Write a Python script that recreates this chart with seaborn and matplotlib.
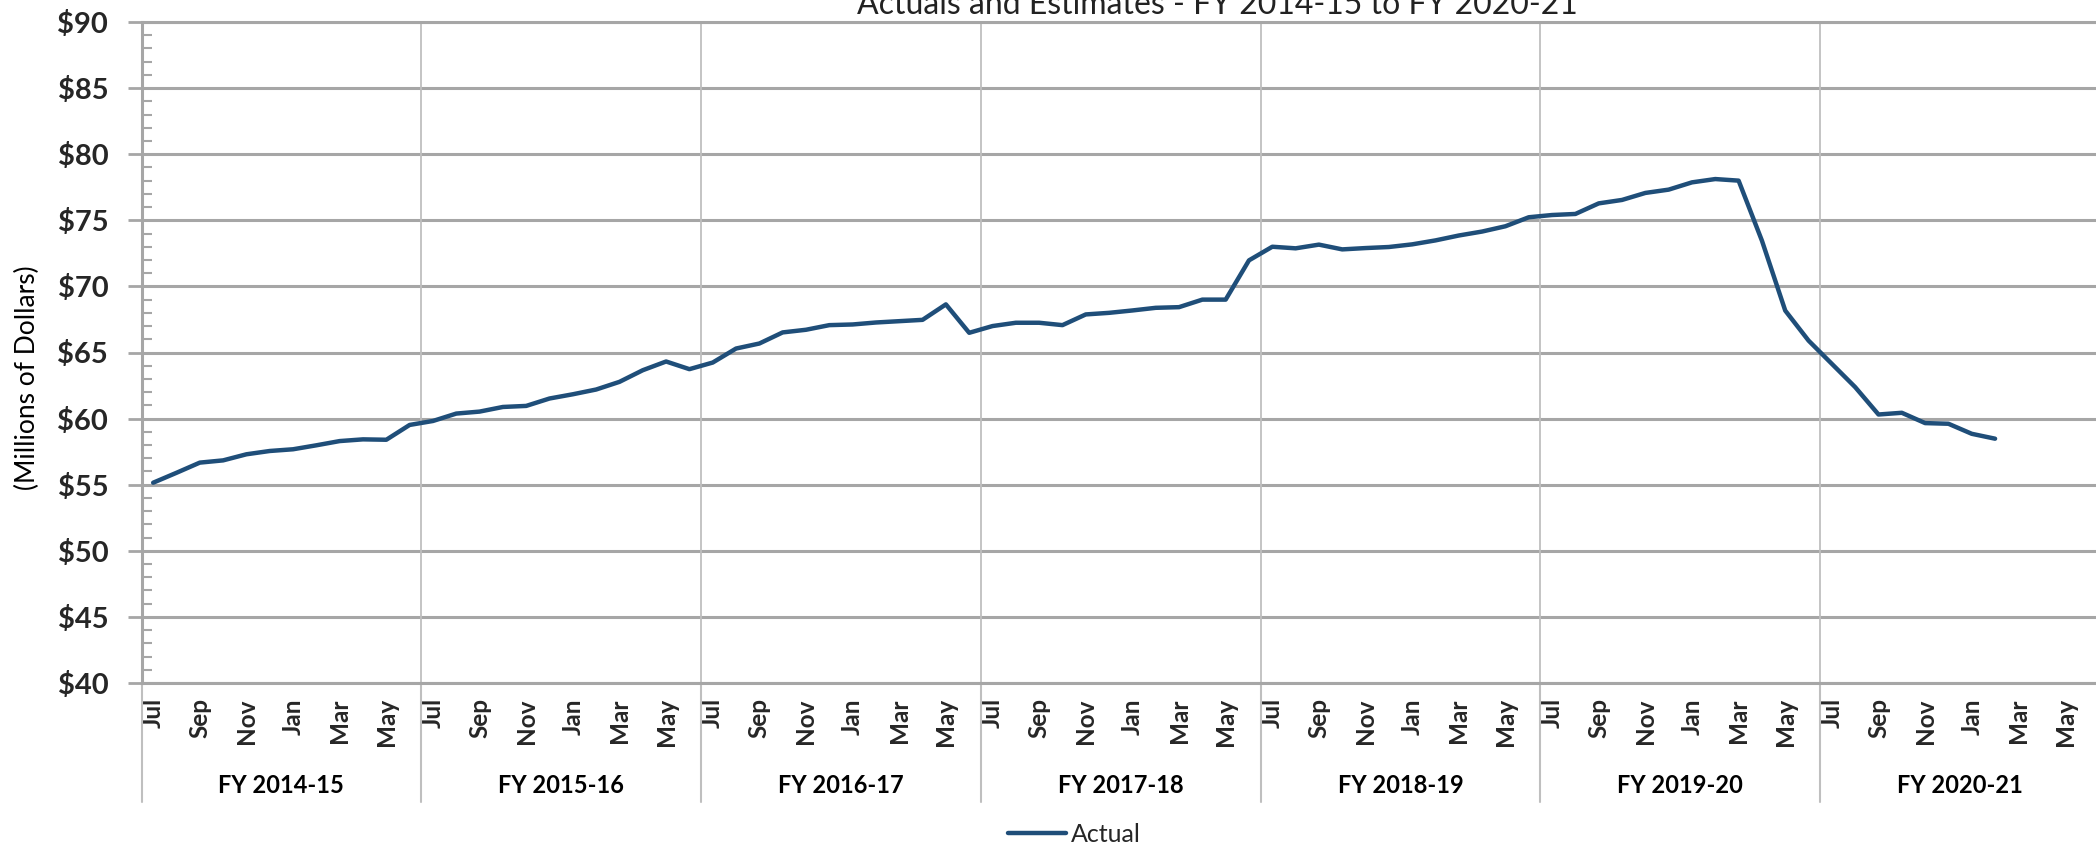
import numpy as np
import pandas as pd
import matplotlib
matplotlib.use("Agg")
import matplotlib.pyplot as plt
import matplotlib.transforms as mtransforms
from matplotlib.ticker import MultipleLocator, FixedLocator, FuncFormatter
import seaborn as sns

# ---------------- data ----------------
title = "Actuals and Estimates - FY 2014-15 to FY 2020-21"
y_label = "(Millions of Dollars)"
series_name = "Actual"
fiscal_years = ["FY 2014-15", "FY 2015-16", "FY 2016-17", "FY 2017-18",
                "FY 2018-19", "FY 2019-20", "FY 2020-21"]
months = ["Jul", "Aug", "Sep", "Oct", "Nov", "Dec",
          "Jan", "Feb", "Mar", "Apr", "May", "Jun"]
actual = [
    55.15, 55.90, 56.67, 56.84, 57.30, 57.55, 57.68, 57.98, 58.30, 58.43, 58.40, 59.52,
    59.82, 60.38, 60.53, 60.88, 60.96, 61.52, 61.84, 62.20, 62.78, 63.66, 64.32, 63.74,
    64.24, 65.30, 65.68, 66.52, 66.72, 67.07, 67.12, 67.27, 67.37, 67.47, 68.64, 66.49,
    67.00, 67.25, 67.25, 67.07, 67.88, 68.00, 68.18, 68.38, 68.43, 69.00, 69.00, 71.97,
    73.00, 72.88, 73.16, 72.80, 72.90, 72.98, 73.18, 73.48, 73.85, 74.15, 74.55, 75.23,
    75.40, 75.48, 76.28, 76.54, 77.07, 77.32, 77.87, 78.12, 78.00, 73.46, 68.17, 65.90,
    64.14, 62.38, 60.31, 60.44, 59.66, 59.61, 58.85, 58.48,
]
y_min, y_max, y_step = 40, 90, 5

# ---------------- style ----------------
sns.set_theme(style="white")
plt.rcParams["font.family"] = ["Lato", "DejaVu Sans"]

W, H = 2096, 847
fig = plt.figure(figsize=(W / 100, H / 100), dpi=100)
left, right = 141.5 / W, 2100 / W
bottom, top = 1 - 683 / H, 1 - 22 / H
ax = fig.add_axes([left, bottom, right - left, top - bottom])

line_color = "#1F4E79"
grid_color = "#a6a6a6"
vgrid_color = "#bfbfbf"

n_months = len(fiscal_years) * len(months)
df = pd.DataFrame({"idx": np.arange(len(actual)), "value": actual})
sns.lineplot(data=df, x="idx", y="value", color=line_color, linewidth=3.2,
             ax=ax, label=series_name, solid_capstyle="round", zorder=5)
handles, labels = ax.get_legend_handles_labels()
ax.get_legend().remove()

ax.set_xlim(-0.5, n_months - 0.5)
ax.set_ylim(y_min, y_max)
ax.set_xlabel("")
ax.set_ylabel("")

# horizontal gridlines
ax.yaxis.set_major_locator(MultipleLocator(y_step))
ax.yaxis.set_minor_locator(MultipleLocator(1))
ax.yaxis.grid(True, which="major", color=grid_color, linewidth=2.2)
ax.xaxis.grid(False)
ax.set_axisbelow(True)

# spines
ax.spines["right"].set_visible(False)
for s in ["left", "bottom", "top"]:
    ax.spines[s].set_color(grid_color)
    ax.spines[s].set_linewidth(2.2)

# fiscal-year separators (inside + below axis)
blend = mtransforms.blended_transform_factory(ax.transData, fig.transFigure)
for k in range(len(fiscal_years) + 1):
    xb = k * len(months) - 0.5
    if 0 < k < len(fiscal_years):
        ax.axvline(xb, color=vgrid_color, linewidth=1.3, zorder=1)
    ax.plot([xb, xb], [bottom, 1 - 802 / H], transform=blend, color=vgrid_color,
            linewidth=1.5, clip_on=False)

# y ticks
ax.yaxis.set_major_formatter(FuncFormatter(lambda v, p: f"${v:.0f}"))
ax.tick_params(axis="y", which="major", direction="out", length=10, width=2,
               color=grid_color, pad=14, labelsize=21, left=True)
ax.tick_params(axis="y", which="minor", direction="in", length=7, width=1.5,
               color=grid_color, left=True)
for t in ax.get_yticklabels():
    t.set_fontweight("bold")

# x ticks: every other month
tick_pos = list(range(0, n_months, 2))
ax.xaxis.set_major_locator(FixedLocator(tick_pos))
ax.set_xticklabels([months[i % len(months)] for i in tick_pos], rotation=90,
                   fontweight="bold", fontsize=17.5)
ax.tick_params(axis="x", which="major", length=0, pad=11, bottom=True)

# fiscal-year group labels
for k, fy in enumerate(fiscal_years):
    ax.text(k * len(months) + (len(months) - 1) / 2, 1 - 785 / H, fy,
            transform=blend, ha="center", va="center", fontsize=17,
            fontweight="bold", color="black")

# title and y label
fig.text(1217 / W, 1 - 14 / H, title, ha="center", va="baseline", fontsize=23,
         color="#222222")
fig.text(27 / W, 1 - 377.5 / H, y_label, rotation=90, ha="center", va="center",
         fontsize=19, color="black")

# legend
fig.legend(handles, labels, loc="center left",
           bbox_to_anchor=(1008 / W, 1 - 834 / H), frameon=False, fontsize=18,
           handlelength=2.3, handletextpad=0.2, borderpad=0, borderaxespad=0)

fig.savefig("out.png", dpi=100)
